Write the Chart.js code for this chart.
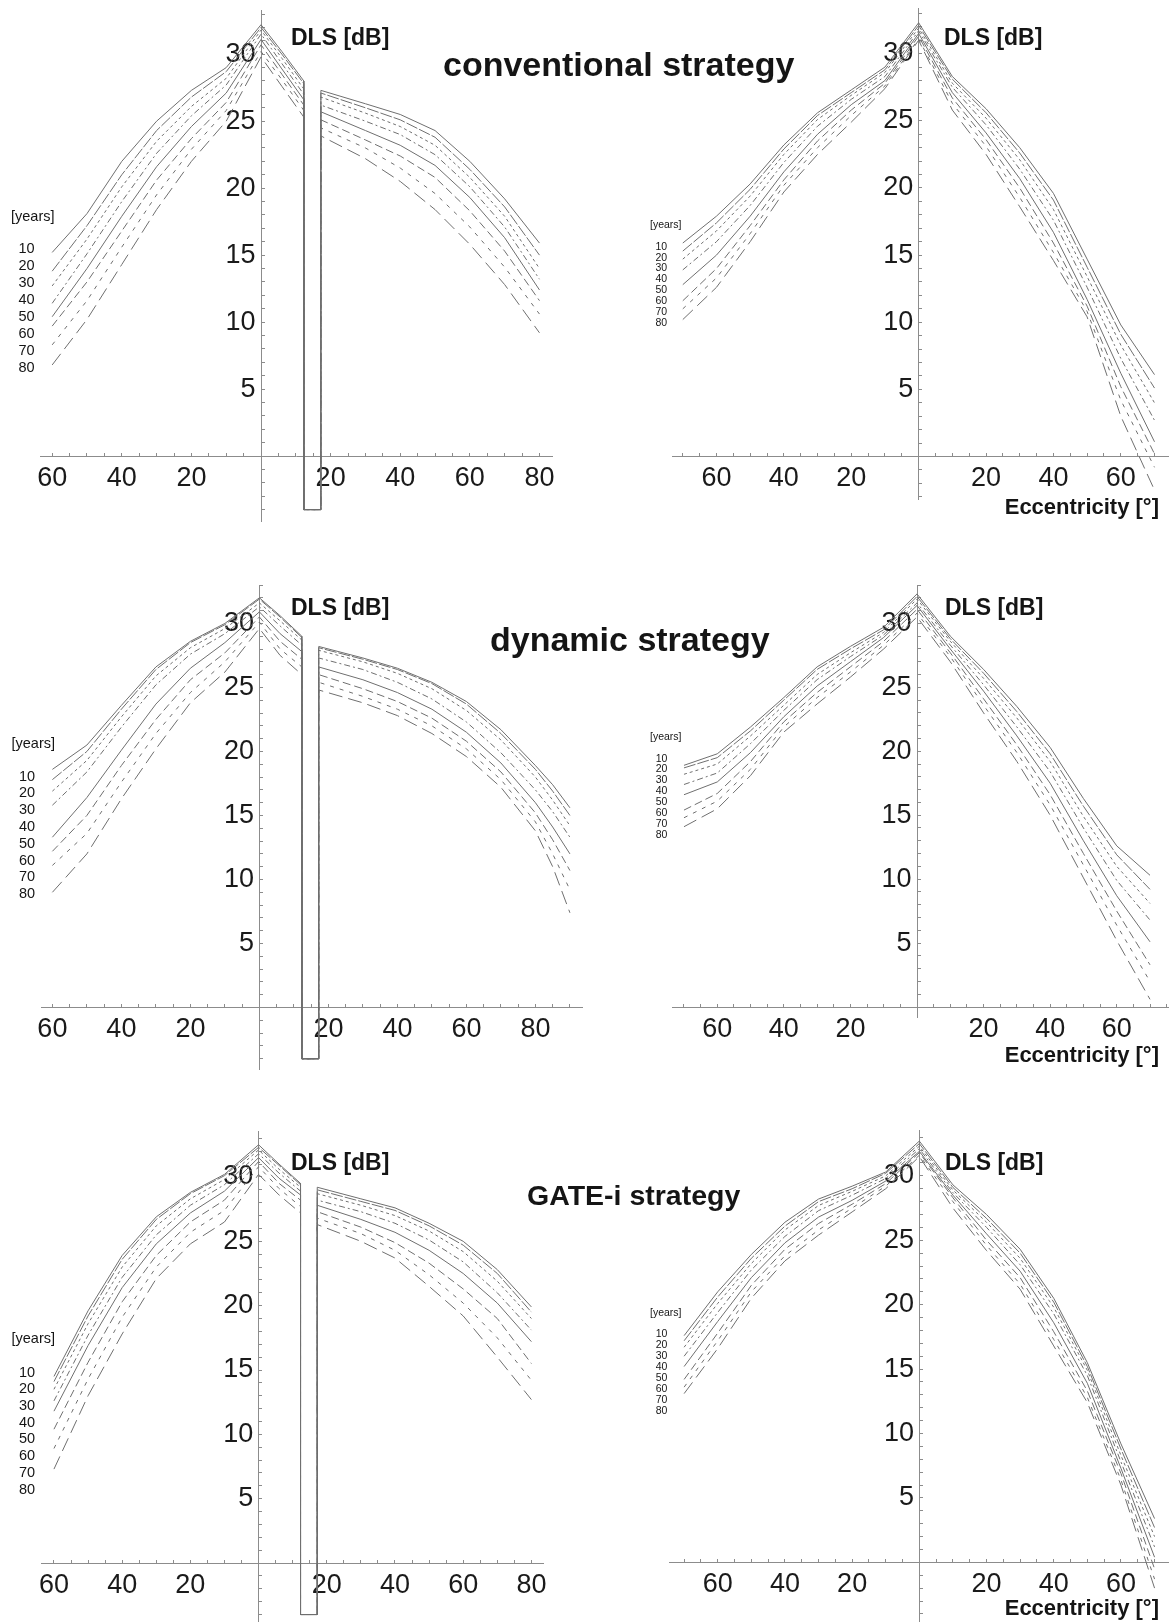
<!DOCTYPE html>
<html>
<head>
<meta charset="utf-8">
<title>DLS profiles by age</title>
<script src="https://cdn.jsdelivr.net/npm/chart.js@4.4.1/dist/chart.umd.min.js"></script>
<style>
  html, body { margin: 0; padding: 0; background: #fff; }
  #page { position: relative; width: 1169px; height: 1622px; overflow: hidden;
          font-family: "Liberation Sans", Arial, sans-serif; color: #151515; }
  #page canvas { position: absolute; }
  .txt { position: absolute; line-height: 0; white-space: nowrap; }
  .bold { font-weight: bold; }
</style>
</head>
<body>
<div id="page"></div>
<script>
// ---- age groups and tick labels ----
const ages = [10, 20, 30, 40, 50, 60, 70, 80];
const xTickLabels = [20, 40, 60, 80];
const yTickLabels = [5, 10, 15, 20, 25, 30];

// ---- eccentricities (degrees) ----
const blindSpot = [12.3, 17.2];
const blindFloor = -4;
const eccTemporal = [-60, -50, -40, -30, -20, -10, 0, 6, 12.3];
const eccNasal80 = [17.2, 30, 40, 50, 60, 70, 80];
const eccNasal90 = [17.2, 30, 40, 50, 60, 70, 80, 85, 90];
const eccVertical = [-70, -60, -50, -40, -30, -20, -10, 0, 10, 20, 30, 40, 50, 60, 70];

// ---- DLS [dB], one row per age group (10 ... 80 years) ----
// horizontal meridian: temporal side, then nasal side behind the blind spot
const conventionalHorizontal = [
  [15.2, 18.1, 22.0, 25.0, 27.3, 29.0, 32.2, 30.2, 28.0, 27.3, 26.3, 25.5, 24.3, 22.0, 19.2, 15.9],
  [13.8, 17.2, 21.0, 24.3, 26.8, 28.7, 32.0, 30.0, 27.8, 27.1, 26.0, 25.1, 23.8, 21.4, 18.6, 15.0],
  [12.7, 16.2, 20.1, 23.5, 26.1, 28.2, 31.8, 29.7, 27.4, 26.8, 25.6, 24.6, 23.2, 20.8, 17.9, 14.0],
  [11.4, 15.1, 19.0, 22.6, 25.4, 27.7, 31.5, 29.3, 27.0, 26.2, 25.0, 24.0, 22.5, 20.1, 17.1, 13.2],
  [10.4, 14.0, 17.9, 21.6, 24.6, 27.1, 31.1, 28.9, 26.6, 25.7, 24.3, 23.2, 21.7, 19.3, 16.3, 12.4],
  [9.7, 13.0, 16.8, 20.6, 23.7, 26.4, 30.7, 28.5, 26.2, 25.1, 23.6, 22.4, 20.8, 18.3, 15.3, 11.6],
  [8.3, 11.6, 15.6, 19.5, 22.9, 25.8, 30.2, 28.1, 25.8, 24.5, 23.0, 21.5, 19.6, 17.1, 14.1, 10.6],
  [6.8, 10.2, 14.3, 18.4, 22.0, 25.0, 29.8, 27.6, 25.3, 23.9, 22.2, 20.5, 18.4, 15.8, 12.8, 9.2]
];
const conventionalVertical = [
  [15.9, 17.9, 20.3, 23.2, 25.6, 27.3, 29.0, 32.3, 28.3, 25.9, 23.0, 19.6, 14.7, 9.8, 6.1],
  [15.3, 17.4, 19.9, 22.9, 25.4, 27.1, 28.8, 32.1, 28.1, 25.6, 22.6, 19.1, 14.1, 9.1, 5.1],
  [14.7, 16.8, 19.4, 22.5, 25.1, 26.9, 28.6, 31.9, 27.8, 25.2, 22.1, 18.4, 13.4, 8.3, 4.0],
  [13.9, 16.0, 18.7, 21.9, 24.6, 26.6, 28.3, 31.7, 27.5, 24.7, 21.4, 17.6, 12.6, 7.3, 2.7],
  [12.8, 15.0, 17.9, 21.2, 24.0, 26.2, 28.0, 31.5, 27.1, 24.1, 20.7, 16.7, 11.7, 6.2, 1.1],
  [11.6, 14.0, 17.2, 20.6, 23.5, 25.8, 27.8, 31.3, 26.7, 23.6, 20.0, 15.9, 11.2, 5.2, 0.2],
  [11.0, 13.3, 16.6, 20.2, 23.0, 25.4, 27.6, 31.1, 26.3, 23.1, 19.3, 15.2, 10.8, 4.2, -0.8],
  [10.2, 12.6, 16.0, 19.7, 22.5, 24.9, 27.4, 31.0, 25.8, 22.5, 18.6, 14.6, 10.4, 3.0, -2.5]
];
const dynamicHorizontal = [
  [18.6, 20.5, 23.6, 26.6, 28.6, 30.0, 32.0, 30.6, 29.0, 28.2, 27.3, 26.5, 25.4, 23.9, 21.7, 18.9, 17.4, 15.6],
  [17.8, 20.0, 23.3, 26.4, 28.5, 29.9, 31.9, 30.5, 28.9, 28.1, 27.2, 26.4, 25.3, 23.7, 21.4, 18.6, 16.9, 15.0],
  [16.9, 19.3, 22.7, 25.9, 28.1, 29.6, 31.6, 30.2, 28.7, 27.9, 27.0, 26.1, 24.9, 23.2, 20.9, 18.0, 16.2, 14.2],
  [15.8, 18.4, 21.9, 25.2, 27.6, 29.2, 31.3, 29.8, 28.3, 27.3, 26.4, 25.4, 24.1, 22.3, 19.9, 17.0, 15.3, 13.3],
  [13.3, 16.4, 20.1, 23.7, 26.5, 28.5, 30.9, 29.2, 27.8, 26.6, 25.6, 24.6, 23.3, 21.5, 19.1, 16.0, 14.1, 12.0],
  [12.2, 15.0, 18.9, 22.5, 25.6, 27.7, 30.5, 28.6, 27.2, 26.0, 24.9, 23.9, 22.6, 20.8, 18.4, 15.2, 13.1, 10.7],
  [11.1, 13.6, 17.6, 21.4, 24.6, 27.0, 30.1, 28.0, 26.6, 25.4, 24.3, 23.3, 22.0, 20.2, 17.8, 14.5, 12.0, 9.2],
  [9.0, 12.0, 16.3, 20.2, 23.8, 26.2, 29.6, 27.5, 26.0, 24.8, 23.8, 22.8, 21.4, 19.6, 17.2, 13.8, 11.0, 7.4]
];
const dynamicVertical = [
  [18.9, 19.8, 21.9, 24.2, 26.6, 28.2, 29.7, 32.3, 29.0, 26.4, 23.5, 20.3, 16.3, 12.6, 10.3],
  [18.7, 19.5, 21.6, 24.0, 26.4, 28.0, 29.5, 32.1, 28.8, 26.1, 23.1, 19.8, 15.7, 11.9, 9.2],
  [18.2, 19.0, 21.2, 23.6, 26.0, 27.7, 29.3, 31.9, 28.6, 25.7, 22.6, 19.2, 14.9, 11.0, 8.1],
  [17.4, 18.3, 20.6, 23.2, 25.6, 27.4, 29.1, 31.6, 28.3, 25.2, 21.9, 18.4, 14.0, 9.9, 6.8],
  [16.6, 17.6, 19.9, 22.7, 25.1, 27.0, 28.9, 31.4, 28.0, 24.7, 21.2, 17.5, 13.0, 8.7, 5.1],
  [15.4, 16.7, 19.2, 22.3, 24.6, 26.6, 28.6, 31.1, 27.7, 24.1, 20.5, 16.6, 12.0, 7.5, 3.3],
  [14.8, 16.1, 18.6, 21.9, 24.2, 26.2, 28.3, 30.8, 27.4, 23.6, 19.9, 15.8, 11.1, 6.4, 2.0],
  [14.1, 15.5, 18.1, 21.5, 23.7, 25.8, 28.0, 30.5, 27.0, 23.0, 19.2, 15.0, 10.1, 5.2, 0.6]
];
const gateHorizontal = [
  [14.5, 19.6, 23.9, 26.9, 28.8, 30.2, 32.5, 31.0, 29.5, 29.2, 28.3, 27.6, 26.4, 25.0, 22.8, 19.9],
  [14.1, 19.2, 23.6, 26.7, 28.7, 30.1, 32.3, 30.9, 29.4, 29.0, 28.1, 27.4, 26.2, 24.7, 22.5, 19.5],
  [13.5, 18.6, 23.0, 26.2, 28.3, 29.8, 32.1, 30.6, 29.2, 28.7, 27.8, 27.0, 25.8, 24.2, 21.9, 19.0],
  [12.6, 17.7, 22.2, 25.5, 27.8, 29.4, 31.8, 30.3, 28.9, 28.2, 27.3, 26.4, 25.1, 23.4, 21.0, 18.1],
  [11.8, 16.9, 21.4, 24.8, 27.2, 28.9, 31.5, 29.9, 28.6, 27.8, 26.7, 25.7, 24.3, 22.5, 20.2, 17.2],
  [10.4, 15.6, 20.3, 23.9, 26.5, 28.2, 31.2, 29.5, 28.2, 27.3, 26.1, 24.9, 23.3, 21.3, 19.0, 15.5],
  [8.9, 14.3, 19.1, 23.0, 25.7, 27.4, 30.8, 29.1, 27.7, 26.8, 25.6, 24.3, 22.4, 20.2, 17.5, 14.2],
  [7.3, 13.0, 17.8, 22.1, 24.8, 26.5, 30.2, 28.6, 27.2, 26.3, 25.0, 23.7, 21.5, 19.2, 16.0, 12.7]
];
const gateVertical = [
  [17.6, 21.0, 23.9, 26.4, 28.2, 29.2, 30.3, 32.7, 29.3, 27.0, 24.3, 20.5, 15.5, 9.2, 3.4],
  [17.2, 20.6, 23.6, 26.1, 28.0, 29.0, 30.2, 32.5, 29.1, 26.7, 24.0, 20.2, 15.2, 8.8, 2.7],
  [16.7, 20.1, 23.2, 25.8, 27.7, 28.8, 30.0, 32.3, 28.9, 26.4, 23.6, 19.8, 14.9, 8.3, 2.0],
  [16.0, 19.4, 22.7, 25.3, 27.3, 28.5, 29.8, 32.1, 28.7, 26.0, 23.1, 19.3, 14.5, 7.8, 1.2],
  [15.2, 18.7, 22.1, 24.8, 26.8, 28.1, 29.6, 31.9, 28.5, 25.5, 22.6, 18.6, 13.9, 7.3, 0.4],
  [14.2, 17.8, 21.5, 24.3, 26.3, 27.8, 29.4, 31.8, 28.3, 25.0, 22.1, 17.9, 13.3, 6.9, -0.5],
  [13.6, 17.2, 21.0, 23.8, 25.8, 27.5, 29.2, 31.6, 28.0, 24.6, 21.6, 17.3, 12.8, 6.4, -1.3],
  [13.1, 16.6, 20.5, 23.4, 25.4, 27.2, 29.0, 31.5, 27.5, 24.2, 21.2, 16.8, 12.4, 6.0, -2.0]
];

// ---- styling ----
const FONT = '"Liberation Sans", Arial, sans-serif';
const lineColor = '#6f6f6f';
const axisColor = '#8c8c8c';
const labelColor = '#1a1a1a';
const ageDash = [[], [12, 2], [3, 3], [6, 3, 2, 3], [], [8, 4], [4, 6], [14, 6]];
const MARGIN = 40; // room around each plotting area for tick labels

// ---- point builders ----
function horizontalPoints(vals, nasal) {
  const pts = eccTemporal.map((x, i) => ({ x, y: vals[i] }));
  pts.push({ x: blindSpot[0], y: blindFloor }, { x: blindSpot[1], y: blindFloor });
  nasal.forEach((x, i) => pts.push({ x, y: vals[eccTemporal.length + i] }));
  return pts;
}
function verticalPoints(vals) {
  return eccVertical.map((x, i) => ({ x, y: vals[i] }));
}

// ---- axes crossing at the origin, ticks pointing inwards ----
function zeroPadding(s) { s.paddingLeft = s.paddingRight = s.paddingTop = s.paddingBottom = 0; }
function keepTicks(step) {
  return s => {
    s.ticks = s.ticks.filter(t => t.value !== 0 && t.value >= s.min && t.value <= s.max &&
      Math.abs(t.value / step - Math.round(t.value / step)) < 1e-6);
  };
}
function xAxis(range) {
  return {
    type: 'linear', min: range[0], max: range[1], position: { y: 0 },
    afterBuildTicks: keepTicks(5), afterFit: zeroPadding,
    border: { display: true, color: axisColor, width: 1 },
    grid: { display: true, drawOnChartArea: false, drawTicks: true, tickLength: -4, color: axisColor, lineWidth: 1 },
    ticks: {
      stepSize: 5, includeBounds: false, autoSkip: false, maxRotation: 0, minRotation: 0, padding: 10,
      font: { family: FONT, size: 27 }, color: labelColor,
      callback: v => xTickLabels.includes(Math.abs(v)) ? String(Math.abs(v)) : ''
    }
  };
}
function yAxis(range) {
  return {
    type: 'linear', min: range[0], max: range[1], position: { x: 0 },
    afterBuildTicks: keepTicks(1), afterFit: zeroPadding,
    border: { display: true, color: axisColor, width: 1 },
    grid: { display: true, drawOnChartArea: false, drawTicks: true, tickLength: -4, color: axisColor, lineWidth: 1 },
    ticks: {
      stepSize: 1, includeBounds: false, autoSkip: false, padding: 0,
      font: { family: FONT, size: 27 }, color: labelColor,
      callback: v => yTickLabels.includes(v) ? v + '\u2009' : ''
    }
  };
}

const page = document.getElementById('page');

function addPanel(p) {
  const c = document.createElement('canvas');
  const w = p.box[2] + 2 * MARGIN, h = p.box[3] + 2 * MARGIN;
  c.width = w; c.height = h;
  c.style.left = (p.box[0] - MARGIN) + 'px'; c.style.top = (p.box[1] - MARGIN) + 'px';
  c.style.width = w + 'px'; c.style.height = h + 'px';
  page.appendChild(c);
  const datasets = p.series.map((vals, k) => ({
    label: ages[k] + ' years',
    data: p.nasal ? horizontalPoints(vals, p.nasal) : verticalPoints(vals),
    showLine: true, borderColor: lineColor, borderWidth: 1, borderDash: ageDash[k],
    pointRadius: 0, pointHoverRadius: 0, fill: false, tension: 0
  }));
  new Chart(c, {
    type: 'scatter',
    data: { datasets },
    options: {
      responsive: false, animation: false, events: [],
      layout: { padding: MARGIN, autoPadding: false },
      plugins: { legend: { display: false }, tooltip: { enabled: false } },
      scales: { x: xAxis(p.x), y: yAxis(p.y) }
    }
  });
}

// box: [left, top, width, height] of the plotting area
addPanel({ box: [40, 10, 512, 511], x: [-63.5, 83.6], y: [-4.85, 33.3], series: conventionalHorizontal, nasal: eccNasal80 });
addPanel({ box: [672, 8, 497, 491], x: [-73.2, 74.3], y: [-3.16, 33.4], series: conventionalVertical });
addPanel({ box: [41, 585, 541, 484], x: [-63.3, 93.5], y: [-4.8, 33.0], series: dynamicHorizontal, nasal: eccNasal90 });
addPanel({ box: [672, 585, 497, 432], x: [-73.6, 75.7], y: [-0.78, 33.0], series: dynamicVertical });
addPanel({ box: [41, 1131, 502, 491], x: [-63.8, 83.4], y: [-4.58, 33.57], series: gateHorizontal, nasal: eccNasal80 });
addPanel({ box: [669, 1130, 500, 492], x: [-74.5, 74.3], y: [-4.63, 33.56], series: gateVertical });

// ---- text ----
function addText(str, x, y, size, bold, alignRight) {
  const d = document.createElement('div');
  d.className = 'txt' + (bold ? ' bold' : '');
  d.textContent = str;
  d.style.fontSize = size + 'px';
  d.style.top = y + 'px';
  if (alignRight) d.style.right = (1169 - x) + 'px'; else d.style.left = x + 'px';
  page.appendChild(d);
}

addText('conventional strategy', 443, 63.8, 34, true);
addText('dynamic strategy', 490, 639.2, 34, true);
addText('GATE-i strategy', 527, 1195, 28.5, true);

[[291, 37.2], [944, 37.2], [291, 606.6], [945, 606.6], [291, 1161.6], [945, 1161.6]]
  .forEach(([x, y]) => addText('DLS [dB]', x, y, 23, true));
[507, 1055.4, 1608].forEach(y => addText('Eccentricity [°]', 1159, y, 22, true, true));

// age keys: [years] label position, first number position, spacing, font size
[
  { hx: 11, hy: 215.6, nx: 18.5, ny: 248.4, step: 16.9, size: 14.5 },
  { hx: 650, hy: 223.8, nx: 655.5, ny: 245.7, step: 10.88, size: 10.5 },
  { hx: 11.5, hy: 742.9, nx: 19, ny: 775.5, step: 16.8, size: 14.5 },
  { hx: 650, hy: 736.2, nx: 655.7, ny: 757.5, step: 10.87, size: 10.5 },
  { hx: 11.5, hy: 1337.5, nx: 19, ny: 1371.5, step: 16.74, size: 14.5 },
  { hx: 650, hy: 1311.5, nx: 655.7, ny: 1332.5, step: 11.04, size: 10.5 }
].forEach(k => {
  addText('[years]', k.hx, k.hy, k.size, false);
  ages.forEach((a, i) => addText(String(a), k.nx, k.ny + i * k.step, k.size, false));
});
</script>
</body>
</html>
